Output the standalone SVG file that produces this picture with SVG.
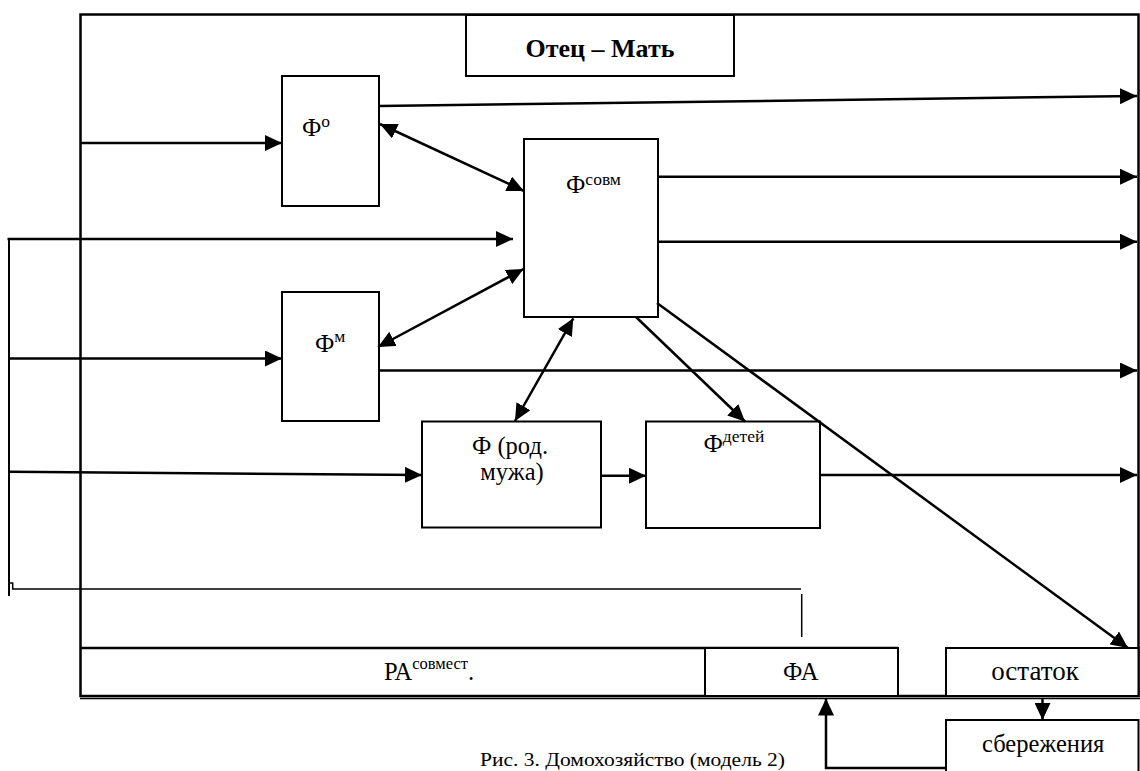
<svg xmlns="http://www.w3.org/2000/svg" width="1140" height="771" viewBox="0 0 1140 771">
<style>
.box{fill:#fff;stroke:#000;stroke-width:2}
.frame{fill:none;stroke:#000;stroke-width:2.5}
.ln{fill:none;stroke:#000;stroke-width:2.5}
.thin{fill:none;stroke:#000;stroke-width:1.5}
text{font-family:"Liberation Serif","DejaVu Serif",serif;fill:#000}
.lbl{font-size:24.5px}
.sup{font-size:17.5px}
.ttl{font-size:26px;font-weight:bold}
</style>
<defs>
<marker id="ah" markerUnits="userSpaceOnUse" markerWidth="18" markerHeight="16" refX="17" refY="8" orient="auto-start-reverse">
<path d="M0,0 L17,8 L0,16 z" fill="#000"/>
</marker>
</defs>
<rect width="1140" height="771" fill="#fff"/>
<g id="frame">
<rect class="frame" x="80.5" y="14.5" width="1058" height="681.5"/>
<line class="thin" x1="80" y1="698.5" x2="1140" y2="698.5"/>
</g>
<g id="title">
<rect class="box" x="466" y="15" width="268" height="61"/>
<text class="ttl" x="600" y="57" text-anchor="middle">Отец – Мать</text>
</g>
<g id="f-o">
<rect class="box" x="282" y="76" width="97" height="130"/>
<text class="lbl" x="302" y="136">Ф<tspan class="sup" dy="-9">о</tspan></text>
</g>
<g id="f-sovm">
<rect class="box" x="524" y="139" width="134" height="178"/>
<text class="lbl" x="566" y="193">Ф<tspan class="sup" dy="-8">совм</tspan></text>
</g>
<g id="f-m">
<rect class="box" x="282" y="292" width="97" height="129"/>
<text class="lbl" x="315" y="352">Ф<tspan class="sup" dy="-10">м</tspan></text>
</g>
<g id="f-rod">
<rect class="box" x="422" y="421.5" width="179" height="106"/>
<text class="lbl" x="510" y="454" text-anchor="middle">Ф (род.</text>
<text class="lbl" x="512" y="480" text-anchor="middle">мужа)</text>
</g>
<g id="f-detey">
<rect class="box" x="646" y="421.5" width="174" height="106.5"/>
<text class="lbl" x="703.5" y="452">Ф<tspan class="sup" dy="-10">детей</tspan></text>
</g>
<g id="ra">
<line class="ln" x1="80" y1="648" x2="898" y2="648"/>
<text class="lbl" x="384" y="680">РА<tspan class="sup" style="font-size:16.5px" dy="-11">совмест</tspan><tspan dy="11">.</tspan></text>
</g>
<g id="fa">
<rect class="box" x="705" y="648" width="193" height="48"/>
<text class="lbl" x="783" y="680">ФА</text>
</g>
<g id="ostatok">
<rect class="box" x="946" y="648" width="192.5" height="48"/>
<text class="lbl" x="1035" y="680" text-anchor="middle" style="font-size:27px">остаток</text>
</g>
<g id="sberezhenia">
<rect class="box" x="946" y="720" width="192.5" height="80"/>
<text class="lbl" x="982" y="752">сбережения</text>
</g>
<g id="connectors">
<line class="ln" x1="80" y1="143" x2="282" y2="143" marker-end="url(#ah)"/>
<line class="ln" x1="379" y1="106" x2="1137" y2="96" marker-end="url(#ah)"/>
<polyline class="ln" points="7.5,239 513,239" marker-end="url(#ah)"/>
<line class="ln" x1="9" y1="239" x2="9" y2="596" style="stroke-width:2"/>
<line class="ln" x1="10" y1="358.5" x2="282" y2="358.5" marker-end="url(#ah)"/>
<line class="ln" x1="10" y1="471.7" x2="422" y2="475" marker-end="url(#ah)"/>
<line class="ln" x1="601" y1="475.7" x2="646" y2="475.7" marker-end="url(#ah)"/>
<line class="ln" x1="658" y1="176.7" x2="1137" y2="176.7" marker-end="url(#ah)"/>
<line class="ln" x1="658" y1="241.7" x2="1137" y2="241.7" marker-end="url(#ah)"/>
<line class="ln" x1="379" y1="370.5" x2="1137" y2="370.5" marker-end="url(#ah)"/>
<line class="ln" x1="820" y1="475" x2="1137" y2="475" marker-end="url(#ah)"/>
<line class="ln" x1="380" y1="124" x2="524" y2="191" marker-start="url(#ah)" marker-end="url(#ah)"/>
<line class="ln" x1="378" y1="347" x2="523.5" y2="269" marker-start="url(#ah)" marker-end="url(#ah)"/>
<line class="ln" x1="573.3" y1="318.3" x2="515" y2="421" marker-start="url(#ah)" marker-end="url(#ah)"/>
<line class="ln" x1="636" y1="317" x2="745" y2="421.5" marker-end="url(#ah)"/>
<line class="ln" x1="657" y1="303" x2="1128" y2="648" marker-end="url(#ah)"/>
<line class="ln" x1="1042.5" y1="698" x2="1042.5" y2="720" marker-end="url(#ah)"/>
<polyline class="ln" points="946,768 826,768 826,698.5" marker-end="url(#ah)"/>
<path class="thin" d="M10,583 H12.7 V589 H801"/>
<line class="thin" x1="801.7" y1="594" x2="801.7" y2="637"/>
</g>
<text x="480" y="766" style="font-size:19px" textLength="305" lengthAdjust="spacingAndGlyphs">Рис. 3. Домохозяйство (модель 2)</text>
</svg>
